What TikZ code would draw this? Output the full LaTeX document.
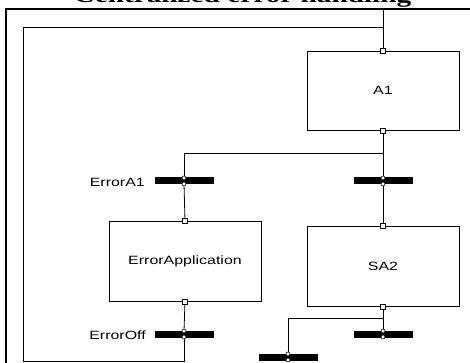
\documentclass[tikz,border=0pt]{standalone}
\usepackage{fontspec}
\setmainfont{Liberation Serif}
\newfontfamily\labfont{Liberation Sans}[FakeStretch=1.33]
\newfontfamily\titlefont{Liberation Serif}[FakeStretch=1.33]
\usetikzlibrary{backgrounds}
\begin{document}
\begin{tikzpicture}[x=1pt,y=-1pt,
  box/.style={draw, line width=0.8pt, minimum width=152pt, minimum height=79pt, inner sep=0pt, font=\labfont\fontsize{12}{14}\selectfont},
  port/.style={draw, fill=white, minimum size=5pt, inner sep=0pt, line width=0.6pt},
  bar/.style={fill=black, minimum width=59pt, minimum height=7pt, inner sep=0pt},
  dot/.style={circle, draw, fill=white, minimum size=4pt, inner sep=0pt, line width=0.6pt},
  conn/.style={line width=0.8pt},
  frame/.style={line width=2pt},
  lab/.style={font=\labfont\fontsize{12}{14}\selectfont, anchor=east, inner sep=0pt}]
\useasboundingbox (0,0) rectangle (470,363);
% title
\node[anchor=base, inner sep=0pt, font=\titlefont\bfseries\fontsize{22}{24}\selectfont] (title) at (242.5,3) {Centralized error handling};
% frame
\coordinate (frtr) at (480,9);
\coordinate (frbl) at (6,375);
\draw[frame] (frtr) -| (frbl);
% steps
\node[box] (A1) at (383,90.5) {A1};
\node[box, minimum height=80pt] (EA) at (185,261) {ErrorApplication};
\node[box, minimum height=80pt] (SA2) at (383,266) {SA2};
% transitions
\node[bar] (t1) at (184,181) {};
\node[bar] (t2) at (383,181) {};
\node[bar] (t3) at (184,334) {};
\node[bar] (t4) at (383,334) {};
\node[bar] (t5) at (288,357) {};
\foreach \t/\x/\y in {t1/184/181, t2/383/181, t3/184/334, t4/383/334, t5/288/357} {
  \node[dot] (\t a) at (\x,\y-3) {};
  \node[dot] (\t b) at (\x,\y+3) {};
}
\node[lab] (lA1) at (145,182) {ErrorA1};
\node[lab] (lOff) at (146,335) {ErrorOff};
% ports
\node[port] (pA1n) at (A1.north) {};
\node[port] (pA1s) at (A1.south) {};
\node[port] (pEAn) at (EA.north) {};
\node[port] (pEAs) at (EA.south) {};
\node[port] (pSAn) at (SA2.north) {};
\node[port] (pSAs) at (SA2.south) {};
% connections
\coordinate (ftop) at (383,9);
\coordinate (lpt) at (383,27);
\coordinate (lpb) at (23,361);
\coordinate (br1) at (383,153);
\coordinate (br2) at (383,318);
\begin{pgfonlayer}{background}
\draw[conn] (ftop) -- (pA1n);
\draw[conn] (pA1s) -- (t2a);
\draw[conn] (t2b) -- (pSAn);
\draw[conn] (br1) -| (t1a);
\draw[conn] (t1b) -- (pEAn);
\draw[conn] (pEAs) -- (t3a);
\draw[conn] (t3b) |- (lpb) |- (lpt);
\draw[conn] (pSAs) -- (t4a);
\draw[conn] (br2) -| (t5a);
\end{pgfonlayer}
\end{tikzpicture}
\end{document}
